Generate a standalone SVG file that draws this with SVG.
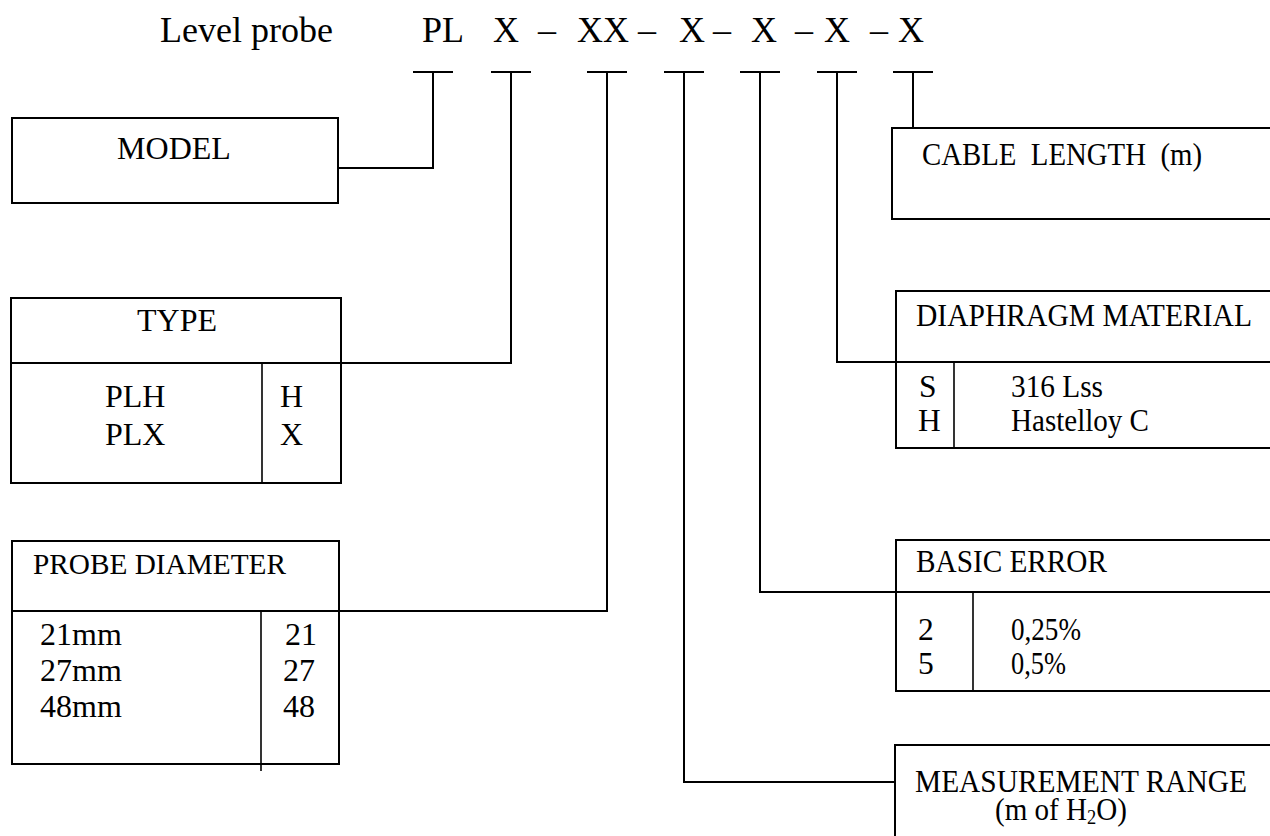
<svg xmlns="http://www.w3.org/2000/svg" width="1270" height="836" viewBox="0 0 1270 836">
<style>
text{font-family:"Liberation Serif","Times New Roman",serif;fill:#000}
.hd{font-size:36px}
.lb{font-size:32px}
.dt{font-size:32px}
.rd{font-size:31.5px}
.box{fill:none;stroke:#000;stroke-width:2}
.ln{fill:none;stroke:#000;stroke-width:2}
.in{fill:none;stroke:#000;stroke-width:1.6}
</style>
<rect width="1270" height="836" fill="#fff"/>
<g id="header">
<text class="hd" x="160" y="42">Level probe</text>
<text class="hd" x="422" y="42">PL</text>
<text class="hd" x="493" y="42">X</text>
<text class="hd" x="538" y="42">–</text>
<text class="hd" x="577" y="42">XX</text>
<text class="hd" x="638" y="42">–</text>
<text class="hd" x="679" y="42">X</text>
<text class="hd" x="713" y="42">–</text>
<text class="hd" x="751" y="42">X</text>
<text class="hd" x="795" y="42">–</text>
<text class="hd" x="824" y="42">X</text>
<text class="hd" x="870" y="42">–</text>
<text class="hd" x="898" y="42">X</text>
</g>
<g id="connectors">
<path class="ln" d="M413 72H453M433 72V168H338"/>
<path class="ln" d="M491 72H531M511 72V363H340"/>
<path class="ln" d="M587 72H627M607 72V611H339"/>
<path class="ln" d="M664 72H704M684 72V782H895"/>
<path class="ln" d="M740 72H780M760 72V592H896"/>
<path class="ln" d="M817 72H857M837 72V362H896"/>
<path class="ln" d="M893 72H933M913 72V128"/>
</g>
<g id="model">
<rect class="box" x="12" y="118" width="326" height="85"/>
<text class="lb" x="174" y="159" text-anchor="middle">MODEL</text>
</g>
<g id="type">
<rect class="box" x="11" y="298" width="330" height="185"/>
<line class="ln" x1="11" y1="363" x2="341" y2="363"/>
<line class="in" x1="262" y1="363" x2="262" y2="483"/>
<text class="lb" x="177" y="331" text-anchor="middle">TYPE</text>
<text class="dt" x="105" y="407">PLH</text>
<text class="dt" x="105" y="445">PLX</text>
<text class="dt" x="280" y="407">H</text>
<text class="dt" x="280" y="445">X</text>
</g>
<g id="probe-diameter">
<rect class="box" x="12" y="541" width="327" height="223"/>
<line class="ln" x1="12" y1="611" x2="339" y2="611"/>
<line class="in" x1="261" y1="611" x2="261" y2="771"/>
<text x="33" y="574" style="font-size:29px" textLength="253" lengthAdjust="spacingAndGlyphs">PROBE DIAMETER</text>
<text class="dt" x="40" y="645">21mm</text>
<text class="dt" x="40" y="681">27mm</text>
<text class="dt" x="40" y="717">48mm</text>
<text class="dt" x="285" y="645">21</text>
<text class="dt" x="283" y="681">27</text>
<text class="dt" x="283" y="717">48</text>
</g>
<g id="cable-length">
<rect class="box" x="892" y="128" width="400" height="91"/>
<text class="rd" x="922" y="165" xml:space="preserve" style="white-space:pre" textLength="280" lengthAdjust="spacingAndGlyphs">CABLE  LENGTH  (m)</text>
</g>
<g id="diaphragm-material">
<rect class="box" x="896" y="291" width="400" height="157"/>
<line class="ln" x1="896" y1="362" x2="1296" y2="362"/>
<line class="in" x1="954" y1="362" x2="954" y2="448"/>
<text class="rd" x="916" y="326" textLength="336" lengthAdjust="spacingAndGlyphs">DIAPHRAGM MATERIAL</text>
<text class="rd" x="919" y="397">S</text>
<text class="rd" x="918" y="431">H</text>
<text class="rd" x="1011" y="397" textLength="92" lengthAdjust="spacingAndGlyphs">316 Lss</text>
<text class="rd" x="1011" y="431" textLength="138" lengthAdjust="spacingAndGlyphs">Hastelloy C</text>
</g>
<g id="basic-error">
<rect class="box" x="896" y="540" width="400" height="151"/>
<line class="ln" x1="896" y1="592" x2="1296" y2="592"/>
<line class="in" x1="973" y1="592" x2="973" y2="691"/>
<text class="rd" x="916" y="572" textLength="191" lengthAdjust="spacingAndGlyphs">BASIC ERROR</text>
<text class="rd" x="918" y="640">2</text>
<text class="rd" x="918" y="674">5</text>
<text class="rd" x="1011" y="640" textLength="70" lengthAdjust="spacingAndGlyphs">0,25%</text>
<text class="rd" x="1011" y="674" textLength="55" lengthAdjust="spacingAndGlyphs">0,5%</text>
</g>
<g id="measurement-range">
<rect class="box" x="895" y="745" width="400" height="120"/>
<text class="rd" x="915" y="792" textLength="332" lengthAdjust="spacingAndGlyphs">MEASUREMENT RANGE</text>
<text class="rd" x="995" y="820" textLength="132" lengthAdjust="spacingAndGlyphs">(m of H<tspan font-size="20" dy="4">2</tspan><tspan dy="-4">O)</tspan></text>
</g>
</svg>
